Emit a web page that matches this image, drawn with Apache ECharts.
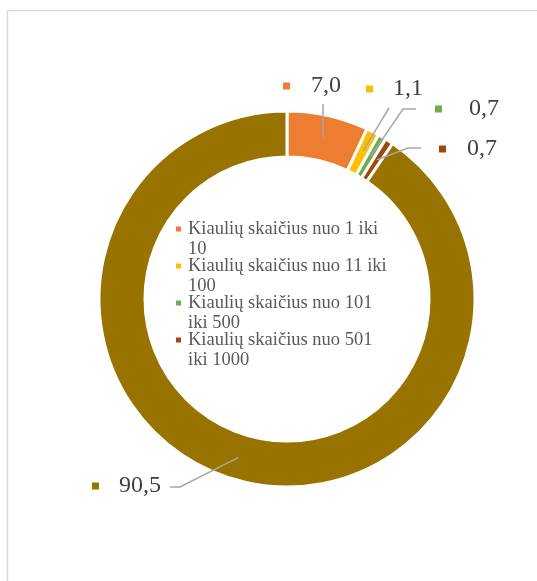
<!DOCTYPE html>
<html><head><meta charset="utf-8">
<script src="https://cdn.jsdelivr.net/npm/echarts@6/dist/echarts.min.js"></script>
<style>html,body{margin:0;padding:0;background:#fff}#c{width:537px;height:581px}</style>
</head><body><div id="c"></div>
<script>
// ---- data ----
const categories = [
  'Kiaulių skaičius nuo 1 iki 10',
  'Kiaulių skaičius nuo 11 iki 100',
  'Kiaulių skaičius nuo 101 iki 500',
  'Kiaulių skaičius nuo 501 iki 1000',
  'Kiaulių skaičius daugiau kaip 1000'
];
const legendText = [
  'Kiaulių skaičius nuo 1 iki\n10',
  'Kiaulių skaičius nuo 11 iki\n100',
  'Kiaulių skaičius nuo 101\niki 500',
  'Kiaulių skaičius nuo 501\niki 1000'
];
const values = [7.0, 1.1, 0.7, 0.7, 90.5];
const colors = ['#ED7D31', '#FFC000', '#70AD47', '#9E480E', '#997300'];

// ---- layout (label anchor positions and leader-line offsets) ----
const CENTER = [287, 299];
const RADII = [142, 188];
const LEADER_R = 166;
const labelPos = [[283, 86], [366, 89], [435, 109], [439, 149], [92, 486]];
const labelGap = [21, 20, 27, 21, 20];
const leaderEnd = [[40, 18], [23, 19], [-19, 0], [-18, -1], [78, 1]];
const leaderElbow = [null, null, [-32, 0], [-31, -1], [88, 1]];

const fmt = v => v.toFixed(1).replace('.', ',');

const chart = echarts.init(document.getElementById('c'), null, {renderer: 'canvas'});

const ringData = values.map((v, i) => ({name: categories[i], value: v, itemStyle: {color: colors[i]}}));
const labelData = values.map((v, i) => ({
  name: categories[i],
  value: v,
  label: {
    rich: {
      m: {width: 7, height: 7, backgroundColor: colors[i]},
      v: {fontSize: 24, fontFamily: 'Liberation Serif', color: '#404040', padding: [0, 0, 0, labelGap[i]]}
    }
  }
}));

chart.setOption({
  backgroundColor: '#ffffff',
  animation: false,
  graphic: [{
    type: 'rect', z: -10,
    shape: {x: 7.5, y: 10.5, width: 700, height: 700},
    style: {fill: 'none', stroke: '#d9d9d9', lineWidth: 1.5}
  }],
  legend: {
    data: categories.slice(0, 4),
    orient: 'vertical',
    left: 176, top: 219,
    padding: 0,
    itemGap: -3,
    itemWidth: 7, itemHeight: 40,
    icon: 'path://M0,0L0,0M0,7.5h5v5h-5zM7,40L7,40',
    itemStyle: {borderWidth: 0},
    selectedMode: false,
    formatter: name => legendText[categories.indexOf(name)],
    textStyle: {fontFamily: 'Liberation Serif', fontSize: 18.5, color: '#595959', lineHeight: 20}
  },
  series: [{
    type: 'pie',
    z: 2,
    center: CENTER,
    radius: RADII,
    startAngle: 90,
    clockwise: true,
    itemStyle: {borderColor: '#ffffff', borderWidth: 3},
    label: {show: false},
    labelLine: {show: false},
    emphasis: {disabled: true},
    data: ringData
  }, {
    type: 'pie',
    z: 3,
    center: CENTER,
    radius: RADII,
    startAngle: 90,
    clockwise: true,
    avoidLabelOverlap: false,
    silent: true,
    itemStyle: {color: 'rgba(0,0,0,0)', borderWidth: 0},
    label: {
      show: true,
      position: 'outside',
      formatter: p => '{m|}{v|' + fmt(p.value) + '}',
      rich: {m: {width: 7, height: 7}, v: {fontSize: 24, fontFamily: 'Liberation Serif', color: '#404040'}}
    },
    labelLine: {show: true, length: 15, length2: 10, lineStyle: {color: '#a6a6a6', width: 1.5}},
    labelLayout: params => {
      const i = params.dataIndex;
      const p = labelPos[i];
      const out = {x: p[0], y: p[1], align: 'left', verticalAlign: 'middle', hideOverlap: false};
      const lp = params.labelLinePoints;
      if (lp && lp.length) {
        const k = LEADER_R / RADII[1];
        const inner = [CENTER[0] + (lp[0][0] - CENTER[0]) * k, CENTER[1] + (lp[0][1] - CENTER[1]) * k];
        const end = [p[0] + leaderEnd[i][0], p[1] + leaderEnd[i][1]];
        const elbow = leaderElbow[i]
          ? [p[0] + leaderElbow[i][0], p[1] + leaderElbow[i][1]]
          : [(inner[0] + end[0]) / 2, (inner[1] + end[1]) / 2];
        out.labelLinePoints = [inner, elbow, end];
      }
      return out;
    },
    emphasis: {disabled: true},
    data: labelData
  }]
});
</script></body></html>
